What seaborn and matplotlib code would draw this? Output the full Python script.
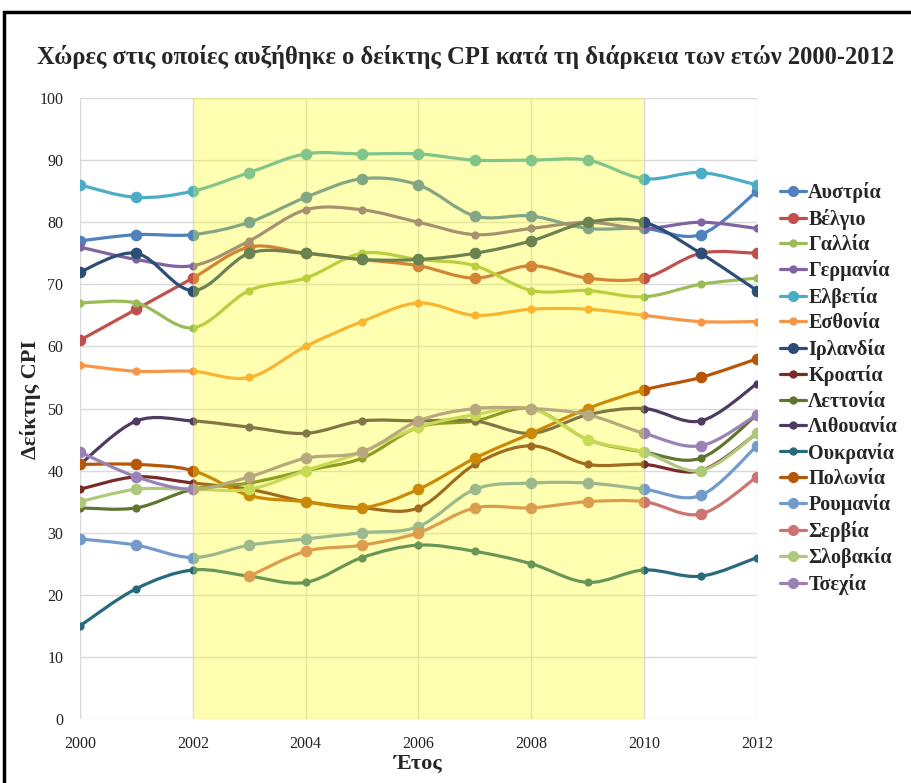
import numpy as np
import pandas as pd
import seaborn as sns
import matplotlib
matplotlib.use('Agg')
import matplotlib.pyplot as plt
from matplotlib.path import Path
from matplotlib.patches import PathPatch, Rectangle
from matplotlib.lines import Line2D

# CPI values, 2000-2012
years = list(range(2000, 2013))
nan = np.nan

austria = [77, 78, 78, 80, 84, 87, 86, 81, 81, 79, 79, 78, 85]
belgium = [61, 66, 71, 76, 75, 74, 73, 71, 73, 71, 71, 75, 75]
france = [67, 67, 63, 69, 71, 75, 74, 73, 69, 69, 68, 70, 71]
germany = [76, 74, 73, 77, 82, 82, 80, 78, 79, 80, 79, 80, 79]
switzerland = [86, 84, 85, 88, 91, 91, 91, 90, 90, 90, 87, 88, 86]
estonia = [57, 56, 56, 55, 60, 64, 67, 65, 66, 66, 65, 64, 64]
ireland = [72, 75, 69, 75, 75, 74, 74, 75, 77, 80, 80, 75, 69]
croatia = [37, 39, 38, 37, 35, 34, 34, 41, 44, 41, 41, 40, 46]
latvia = [34, 34, 37, 38, 40, 42, 47, 48, 50, 45, 43, 42, 49]
lithuania = [41, 48, 48, 47, 46, 48, 48, 48, 46, 49, 50, 48, 54]
ukraine = [15, 21, 24, 23, 22, 26, 28, 27, 25, 22, 24, 23, 26]
poland = [41, 41, 40, 36, 35, 34, 37, 42, 46, 50, 53, 55, 58]
romania = [29, 28, 26, 28, 29, 30, 31, 37, 38, 38, 37, 36, 44]
serbia = [nan, nan, nan, 23, 27, 28, 30, 34, 34, 35, 35, 33, 39]
slovakia = [35, 37, 37, 37, 40, 43, 47, 49, 50, 45, 43, 40, 46]
czech = [43, 39, 37, 39, 42, 43, 48, 50, 50, 49, 46, 44, 49]

countries = ['Αυστρία', 'Βέλγιο', 'Γαλλία', 'Γερμανία', 'Ελβετία', 'Εσθονία',
             'Ιρλανδία', 'Κροατία', 'Λεττονία', 'Λιθουανία', 'Ουκρανία',
             'Πολωνία', 'Ρουμανία', 'Σερβία', 'Σλοβακία', 'Τσεχία']
series = [austria, belgium, france, germany, switzerland, estonia, ireland,
          croatia, latvia, lithuania, ukraine, poland, romania, serbia,
          slovakia, czech]

# excel 2010 office palette (base, darker, lighter)
colors = ['#4F81BD', '#C0504D', '#9BBB59', '#8064A2', '#4BACC6', '#F79646',
          '#2C4D75', '#772C2A', '#5F7530', '#4D3B62', '#276A7C', '#B65708',
          '#729ACA', '#CD7371', '#AFC97A', '#9983B5']
big = {'Αυστρία', 'Βέλγιο', 'Ελβετία', 'Ιρλανδία', 'Πολωνία', 'Ρουμανία',
       'Σερβία', 'Σλοβακία', 'Τσεχία'}

df = pd.DataFrame({'year': years * len(countries),
                   'cpi': sum(series, []),
                   'country': np.repeat(countries, len(years))}).dropna()


def smooth_path(xs, ys):
    # excel-like smoothed line: cubic bezier through the points
    pts = np.column_stack([xs, ys])
    verts = [pts[0]]
    codes = [Path.MOVETO]
    n = len(pts)
    for i in range(n - 1):
        p0 = pts[max(i - 1, 0)]
        p1 = pts[i]
        p2 = pts[i + 1]
        p3 = pts[min(i + 2, n - 1)]
        c1 = p1 + (p2 - p0) / 6.0
        c2 = p2 - (p3 - p1) / 6.0
        verts += [c1, c2, p2]
        codes += [Path.CURVE4] * 3
    return Path(verts, codes)


sns.set_style('whitegrid')
plt.rcParams['font.family'] = ['Liberation Serif', 'DejaVu Serif']

fig = plt.figure(figsize=(9.12, 7.83), dpi=100)
ax = fig.add_axes([0.0877, 0.0817, 0.7423, 0.7931])

for i, (name, col) in enumerate(zip(countries, colors)):
    sub = df[df['country'] == name]
    ax.add_patch(PathPatch(smooth_path(sub['year'].values, sub['cpi'].values),
                           facecolor='none', edgecolor=col, lw=2.3,
                           zorder=3 + i * 0.01))
    sns.scatterplot(data=sub, x='year', y='cpi', color=col,
                    s=70 if name in big else 35, edgecolor=col, linewidth=0,
                    ax=ax, zorder=3.005 + i * 0.01, legend=False)

# highlighted period 2002-2010
ax.axvspan(2002, 2010, color='#FFFF00', alpha=0.3, lw=0, zorder=10)

ax.set_xlim(2000, 2012)
ax.set_ylim(0, 100)
ax.set_xticks(range(2000, 2013, 2))
ax.set_yticks(range(0, 101, 10))
ax.grid(True, color='#D9D9D9', linewidth=1)
for s in ax.spines.values():
    s.set_visible(False)
ax.tick_params(axis='both', length=0, labelsize=11.5, colors='#222222', pad=12)
ax.set_xlabel('Έτος', fontsize=16, fontweight='bold')
ax.set_ylabel('Δείκτης CPI', fontsize=16, fontweight='bold')
ax.xaxis.set_label_coords(0.50, -0.056)
ax.yaxis.set_label_coords(-0.0576, 0.514)

fig.text(0.511, 0.927, 'Χώρες στις οποίες αυξήθηκε ο δείκτης CPI κατά τη διάρκεια των ετών 2000-2012',
         ha='center', va='center', fontsize=17.7, fontweight='bold')

handles = [Line2D([], [], color=c, lw=2.3, marker='o',
                  markersize=7 if n in big else 5) for n, c in zip(countries, colors)]
fig.legend(handles, countries, loc='upper left', bbox_to_anchor=(0.8355, 0.7905),
           frameon=False, handlelength=1.3, handletextpad=0.1,
           labelspacing=0.27, prop={'size': 14.5, 'weight': 'bold'})

fig.patches.append(Rectangle((4 / 912, -0.05), 1.0, 1.05 - 12 / 783,
                             transform=fig.transFigure, fill=False,
                             edgecolor='black', lw=2.5))

fig.savefig('out.png', dpi=100)
